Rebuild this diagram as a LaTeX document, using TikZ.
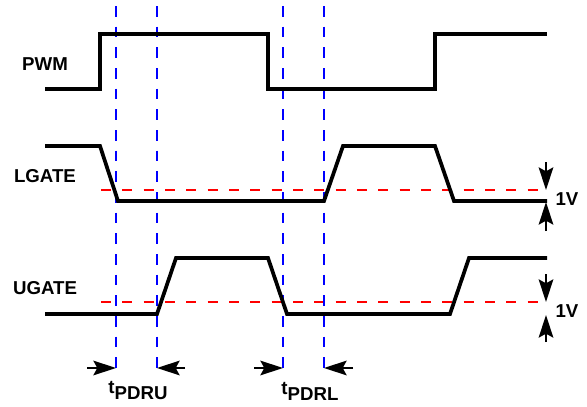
\documentclass[tikz,border=0pt]{standalone}
\usepackage{fontspec}
\setmainfont{Liberation Sans}
\usetikzlibrary{arrows.meta}
\tikzset{
  wave/.style={line width=2.8pt, line join=miter},
  mark line/.style={blue, line width=1.6pt, dash pattern=on 8pt off 7.5pt},
  level line/.style={red, line width=1.5pt, dash pattern=on 7.5pt off 8.5pt},
  dimarrow/.style={-{Stealth[length=17pt,width=11pt,inset=3pt]}, line width=1.4pt},
  lbl/.style={font=\fontsize{14}{16}\selectfont\bfseries, inner sep=0pt}
}
\begin{document}
\begin{tikzpicture}[x=0.75pt,y=-0.75pt]
  \useasboundingbox (0,0) rectangle (587,407);
  % signal names
  \node[lbl] (pwm) at (45,64) {PWM};
  \node[lbl] (lgate) at (45,176) {LGATE};
  \node[lbl] (ugate) at (45,288) {UGATE};
  % threshold lines
  \draw[level line] (101,190) -- (547,190);
  \draw[level line] (101,302) -- (547,302);
  % delay markers
  \foreach \x/\n in {116/a,157/b,283/c,324/d} {
    \coordinate (\n-top) at (\x,6);
    \coordinate (\n-bot) at (\x,368);
    \draw[mark line] (\n-top) -- (\n-bot);
  }
  % waveforms
  \draw[wave] (45,89) -- (100,89) -- (100,34) -- (268,34) -- (268,89)
    -- (435,89) -- (435,34) -- (547,34);
  \draw[wave] (45,146) -- (100,146) -- (118,201) -- (324,201) -- (343,146)
    -- (435,146) -- (454,201) -- (547,201);
  \draw[wave] (45,314) -- (157,314) -- (176,258) -- (268,258) -- (287,314)
    -- (450,314) -- (469,258) -- (547,258);
  % delay arrows
  \coordinate (a-in) at (87,368);
  \coordinate (b-in) at (185,368);
  \coordinate (c-in) at (254,368);
  \coordinate (d-in) at (353,368);
  \draw[dimarrow] (a-in) -- (a-bot);
  \draw[dimarrow] (b-in) -- (b-bot);
  \draw[dimarrow] (c-in) -- (c-bot);
  \draw[dimarrow] (d-in) -- (d-bot);
  \node[lbl] (tpdru) at (138,391) {t\raisebox{-4.5pt}{PDRU}};
  \node[lbl] (tpdrl) at (310,391) {t\raisebox{-4.5pt}{PDRL}};
  % 1V arrows
  \coordinate (l-hi) at (546,190);
  \coordinate (l-lo) at (546,202);
  \coordinate (l-top) at (546,162);
  \coordinate (l-bot) at (546,231);
  \coordinate (u-hi) at (546,302);
  \coordinate (u-lo) at (546,315);
  \coordinate (u-top) at (546,274);
  \coordinate (u-bot) at (546,342);
  \draw[dimarrow] (l-top) -- (l-hi);
  \draw[dimarrow] (l-bot) -- (l-lo);
  \draw[dimarrow] (u-top) -- (u-hi);
  \draw[dimarrow] (u-bot) -- (u-lo);
  \node[lbl] (lv) at (567,199) {1V};
  \node[lbl] (uv) at (567,311) {1V};
\end{tikzpicture}
\end{document}
